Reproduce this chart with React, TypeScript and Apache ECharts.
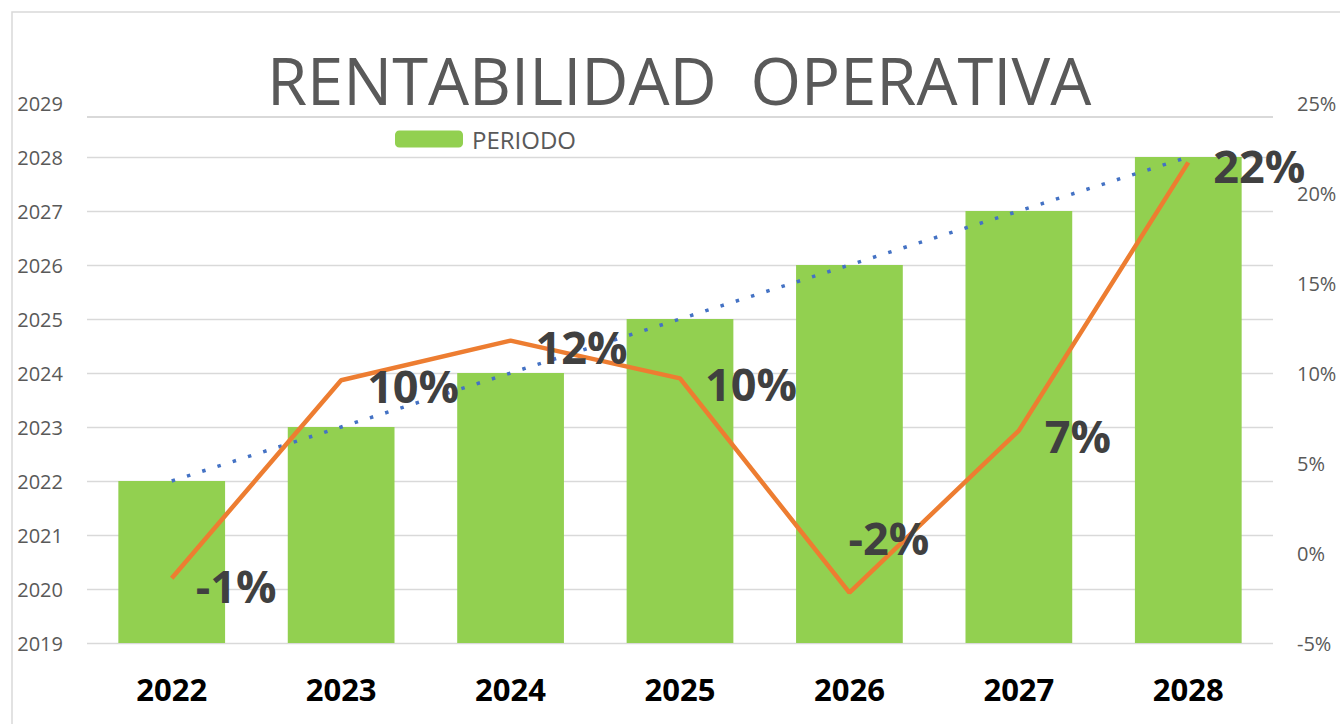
import React, { useEffect, useRef } from "react";
import * as echarts from "echarts";

const categories = ["2022", "2023", "2024", "2025", "2026", "2027", "2028"];
const periodo = [2022, 2023, 2024, 2025, 2026, 2027, 2028];
const rentabilidad = [-1.4, 9.6, 11.8, 9.7, -2.2, 6.8, 21.7];
const labelTexts = ["-1%", "10%", "12%", "10%", "-2%", "7%", "22%"];
const labelOffsets = [
  [24, 7],
  [26, 5],
  [25, 6],
  [25, 5],
  [-1, -55],
  [26, 5],
  [25, 3],
];

const FONT = "'Open Sans', 'Noto Sans', sans-serif";

export default function App() {
  const ref = useRef<HTMLDivElement>(null);
  useEffect(() => {
    if (!ref.current) return;
    const chart = echarts.init(ref.current, undefined, { renderer: "svg" });
    chart.setOption({
      animation: false,
      backgroundColor: "#ffffff",
      textStyle: { fontFamily: FONT },
      title: {
        text: "RENTABILIDAD  OPERATIVA",
        left: 262,
        top: 42,
        textStyle: {
          fontFamily: FONT,
          fontSize: 65,
          fontWeight: "normal",
          color: "#595959",
        },
      },
      legend: {
        data: ["PERIODO"],
        left: 390,
        top: 122,
        itemWidth: 68,
        itemHeight: 17,
        itemGap: 10,
        textStyle: { fontFamily: FONT, fontSize: 24, color: "#595959", padding: [0, 0, 0, 4] },
      },
      graphic: [
        {
          type: "rect",
          shape: { x: 12, y: 12, width: 1400, height: 800 },
          style: { fill: "none", stroke: "#d9d9d9", lineWidth: 1.5 },
          silent: true,
        },
        {
          type: "line",
          shape: { x1: 87, y1: 117, x2: 1273, y2: 117 },
          style: { stroke: "#d9d9d9", lineWidth: 2.2 },
          silent: true,
        },
      ],
      grid: { left: 87, right: 67, top: 103, bottom: 81, containLabel: false },
      xAxis: {
        type: "category",
        data: categories,
        axisLine: { show: false },
        axisTick: { show: false },
        axisLabel: {
          fontFamily: FONT,
          fontSize: 31,
          fontWeight: "bold",
          color: "#000000",
          margin: 30,
        },
      },
      yAxis: [
        {
          type: "value",
          min: 2019,
          max: 2029,
          interval: 1,
          axisLine: { show: false },
          axisTick: { show: false },
          splitLine: {
            show: true,
            showMaxLine: false,
            lineStyle: { color: "#d9d9d9", width: 1.3 },
          },
          axisLabel: {
            fontFamily: FONT,
            fontSize: 20,
            color: "#595959",
            margin: 24,
            formatter: (v: number) => String(v),
          },
        },
        {
          type: "value",
          min: -5,
          max: 25,
          interval: 5,
          axisLine: { show: false },
          axisTick: { show: false },
          splitLine: { show: false },
          axisLabel: {
            fontFamily: FONT,
            fontSize: 20,
            color: "#595959",
            margin: 24,
            formatter: (v: number) => `${v}%`,
          },
        },
      ],
      series: [
        {
          name: "PERIODO",
          type: "bar",
          data: periodo,
          barWidth: "63%",
          itemStyle: { color: "#92D050" },
          yAxisIndex: 0,
          z: 2,
        },
        {
          name: "Tendencia",
          type: "line",
          data: periodo,
          yAxisIndex: 0,
          symbol: "none",
          lineStyle: { color: "#4472C4", width: 3.5, type: [3.5, 12.5] },
          z: 3,
        },
        {
          name: "Rentabilidad",
          type: "line",
          yAxisIndex: 1,
          symbol: "circle",
          symbolSize: 0,
          lineStyle: { color: "#ED7D31", width: 4.5 },
          itemStyle: { color: "#ED7D31" },
          z: 4,
          data: rentabilidad.map((v, i) => ({
            value: v,
            label: {
              show: true,
              position: "right",
              distance: 0,
              offset: labelOffsets[i],
              formatter: () => labelTexts[i],
              fontFamily: FONT,
              fontSize: 45,
              fontWeight: "bold",
              color: "#404040",
            },
          })),
        },
      ],
    });
    return () => chart.dispose();
  }, []);
  return (
    <div
      ref={ref}
      style={{ position: "fixed", left: 0, top: 0, width: 1340, height: 724 }}
    />
  );
}
